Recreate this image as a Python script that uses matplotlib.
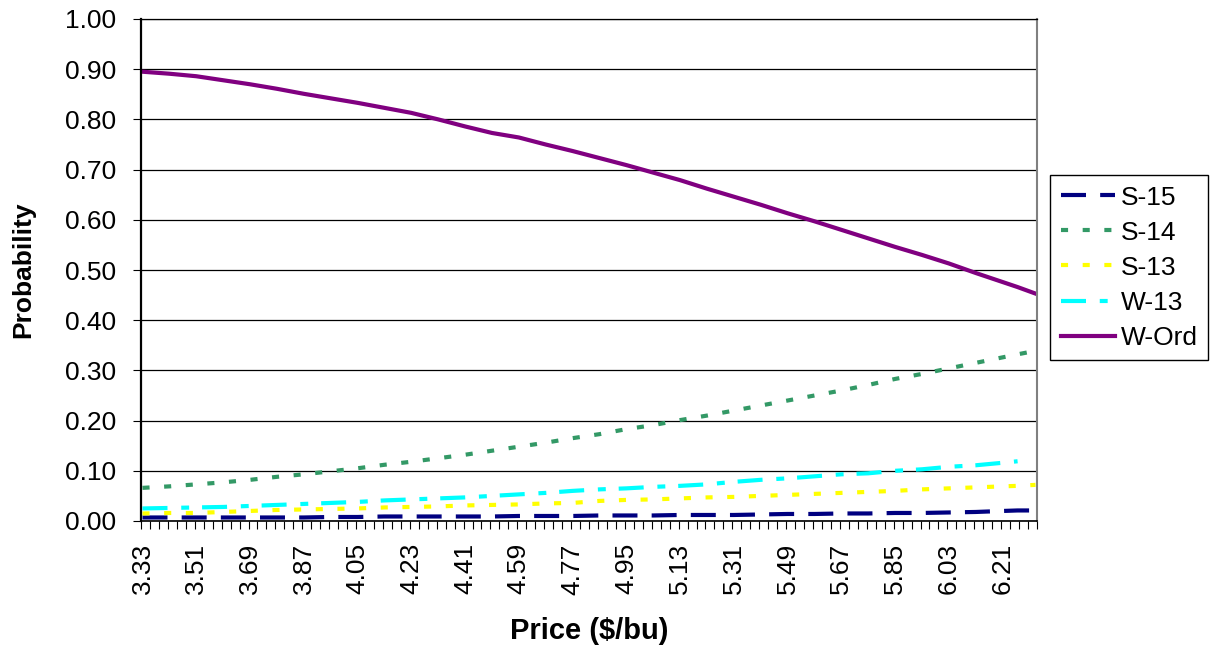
import numpy as np
import matplotlib
matplotlib.use("Agg")
import matplotlib.pyplot as plt

plt.rcParams['font.family'] = ['Liberation Sans', 'DejaVu Sans']

# one category per cent, 3.33 .. 6.32
categories = np.round(np.arange(333, 633) / 100, 2)
tick_labels = ["3.33", "3.51", "3.69", "3.87", "4.05", "4.23", "4.41", "4.59", "4.77",
               "4.95", "5.13", "5.31", "5.49", "5.67", "5.85", "6.03", "6.21"]

# sampled prices and probabilities
prices = [3.33, 3.42, 3.51, 3.60, 3.69, 3.78, 3.87, 3.96, 4.05, 4.14, 4.23, 4.32,
          4.41, 4.50, 4.59, 4.68, 4.77, 4.86, 4.95, 5.04, 5.13, 5.22, 5.31, 5.40,
          5.49, 5.58, 5.67, 5.76, 5.85, 5.94, 6.03, 6.12, 6.21, 6.26, 6.32]

s15 = [0.007, 0.007, 0.007, 0.007, 0.007, 0.007, 0.007, 0.008, 0.008, 0.009, 0.009, 0.009,
       0.009, 0.009, 0.010, 0.010, 0.010, 0.011, 0.011, 0.011, 0.012, 0.012, 0.012, 0.013,
       0.014, 0.014, 0.015, 0.015, 0.016, 0.016, 0.017, 0.018, 0.020, 0.021, 0.021]

s14 = [0.066, 0.069, 0.073, 0.077, 0.082, 0.088, 0.093, 0.099, 0.105, 0.112, 0.118, 0.125,
       0.132, 0.140, 0.148, 0.156, 0.165, 0.173, 0.183, 0.191, 0.201, 0.210, 0.220, 0.230,
       0.240, 0.250, 0.260, 0.271, 0.283, 0.293, 0.304, 0.315, 0.326, 0.332, 0.339]

s13 = [0.015, 0.016, 0.016, 0.018, 0.020, 0.022, 0.023, 0.024, 0.025, 0.027, 0.028, 0.029,
       0.031, 0.032, 0.033, 0.035, 0.036, 0.040, 0.042, 0.043, 0.045, 0.047, 0.048, 0.050,
       0.052, 0.054, 0.056, 0.058, 0.060, 0.063, 0.065, 0.067, 0.069, 0.070, 0.072]

w13 = [0.025, 0.026, 0.027, 0.028, 0.030, 0.032, 0.034, 0.036, 0.038, 0.041, 0.043, 0.045,
       0.047, 0.050, 0.053, 0.056, 0.060, 0.063, 0.065, 0.068, 0.070, 0.073, 0.078, 0.082,
       0.085, 0.089, 0.093, 0.095, 0.100, 0.103, 0.108, 0.111, 0.116, 0.119, np.nan]

w_ord = [0.895, 0.891, 0.886, 0.878, 0.870, 0.861, 0.851, 0.842, 0.833, 0.823, 0.813, 0.800,
         0.786, 0.773, 0.764, 0.750, 0.737, 0.723, 0.709, 0.694, 0.679, 0.662, 0.646, 0.630,
         0.613, 0.597, 0.580, 0.563, 0.546, 0.530, 0.513, 0.494, 0.476, 0.466, 0.453]

series = [
    ("S-15", s15, "#000080", (0, (6, 3.4))),
    ("S-14", s14, "#339966", (0, (1.7, 3.5))),
    ("S-13", s13, "#FFFF00", (0, (1.7, 3.5))),
    ("W-13", w13, "#00FFFF", (0, (6, 3.3, 1.9, 3.1))),
    ("W-Ord", w_ord, "#800080", "-"),
]

W, H = 1219, 645
fig = plt.figure(figsize=(W / 100, H / 100), dpi=100)
ax = fig.add_axes([141 / W, 1 - 521 / H, 896 / W, 502 / H])

x = np.rint((np.array(prices) - categories[0]) * 100)
handles = []
for name, vals, color, ls in series:
    ln, = ax.plot(x, vals, color=color, lw=3, linestyle=ls, label=name)
    handles.append(ln)

ax.set_xlim(-0.5, len(categories) - 0.5)
ax.set_ylim(0, 1)

yt = np.round(np.arange(0, 1.01, 0.1), 2)
ax.set_yticks(yt)
ax.set_yticklabels([f"{v:.2f}" for v in yt], fontsize=19)
ax.tick_params(axis='y', length=6, width=0.8, pad=12, direction='out')
ax.yaxis.grid(True, color='black', lw=0.9)
ax.set_axisbelow(True)

label_pos = [np.searchsorted(categories, float(t)) for t in tick_labels]
ax.set_xticks(label_pos)
ax.set_xticklabels(tick_labels, rotation=90, fontsize=19)
ax.set_xticks(np.arange(-0.5, len(categories), 3), minor=True)
ax.tick_params(axis='x', which='major', length=0, pad=16)
ax.tick_params(axis='x', which='minor', length=5.5, width=0.8, direction='out')

for side in ['left', 'bottom', 'top']:
    ax.spines[side].set_color('black')
ax.spines['left'].set_linewidth(1.6)
ax.spines['bottom'].set_linewidth(1.2)
ax.spines['top'].set_linewidth(0.9)
ax.spines['right'].set_color('#808080')
ax.spines['right'].set_linewidth(1.5)

ax.set_ylabel("Probability", fontsize=19, fontweight='bold')
ax.set_xlabel("Price ($/bu)", fontsize=21, fontweight='bold', labelpad=16)
ax.yaxis.set_label_coords((35 - 141) / 896, 0.5)

leg = fig.legend(handles=handles, loc='upper left',
                 bbox_to_anchor=(1050 / W, 1 - 175 / H),
                 fontsize=19, frameon=True, fancybox=False, edgecolor='black',
                 framealpha=1, handlelength=2.05, handletextpad=0.22,
                 labelspacing=0.42, borderpad=0.4, borderaxespad=0)
leg.get_frame().set_linewidth(1.0)

fig.savefig("out.png", dpi=100)
